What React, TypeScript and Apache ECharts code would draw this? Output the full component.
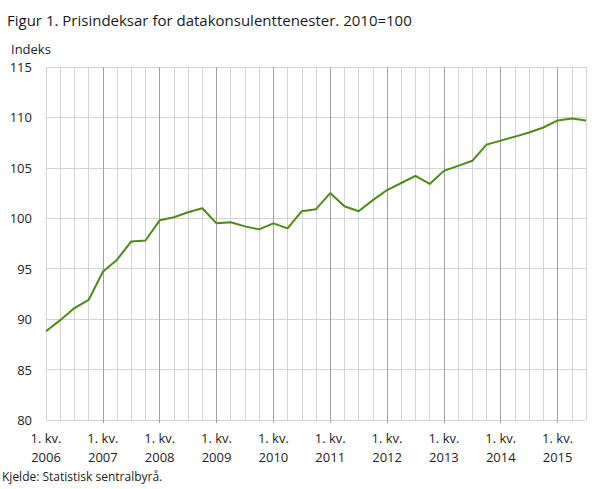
import React, { useEffect, useRef } from "react";
import * as echarts from "echarts";

const categories: string[] = [
  "2006K1", "2006K2", "2006K3", "2006K4",
  "2007K1", "2007K2", "2007K3", "2007K4",
  "2008K1", "2008K2", "2008K3", "2008K4",
  "2009K1", "2009K2", "2009K3", "2009K4",
  "2010K1", "2010K2", "2010K3", "2010K4",
  "2011K1", "2011K2", "2011K3", "2011K4",
  "2012K1", "2012K2", "2012K3", "2012K4",
  "2013K1", "2013K2", "2013K3", "2013K4",
  "2014K1", "2014K2", "2014K3", "2014K4",
  "2015K1", "2015K2", "2015K3",
];

const values: number[] = [
  88.8, 89.9, 91.1, 91.9,
  94.7, 95.9, 97.7, 97.8,
  99.8, 100.1, 100.6, 101.0,
  99.5, 99.6, 99.2, 98.9,
  99.5, 99.0, 100.7, 100.9,
  102.5, 101.2, 100.7, 101.8,
  102.8, 103.5, 104.2, 103.4,
  104.7, 105.2, 105.7, 107.3,
  107.7, 108.1, 108.5, 109.0,
  109.7, 109.9, 109.7,
];

const yTicks = { min: 80, max: 115, interval: 5 };

const FONT = "'Open Sans', 'Noto Sans', sans-serif";

export default function App() {
  const ref = useRef<HTMLDivElement>(null);
  useEffect(() => {
    if (!ref.current) return;
    const chart = echarts.init(ref.current, undefined, { renderer: "svg" });
    const isQ1 = (i: number) => i % 4 === 0;
    chart.setOption({
      animation: false,
      backgroundColor: "#ffffff",
      textStyle: { fontFamily: FONT },
      title: {
        text: "Figur 1. Prisindeksar for datakonsulenttenester. 2010=100",
        left: 2,
        top: 7,
        textStyle: { fontFamily: FONT, fontSize: 15, fontWeight: "normal", color: "#1a1a1a" },
      },
      graphic: [
        {
          type: "text",
          left: 11,
          top: 42,
          style: { text: "Indeks", font: `13px ${FONT}`, fill: "#222" },
        },
        {
          type: "text",
          left: 2,
          top: 470,
          style: { text: "Kjelde: Statistisk sentralbyrå.", font: `12px ${FONT}`, fill: "#222" },
        },
      ],
      grid: { left: 46, right: 23, top: 67, bottom: 69, containLabel: false },
      xAxis: [
        {
          type: "category",
          data: categories,
          boundaryGap: false,
          axisLine: { show: true, lineStyle: { color: "#d4d4d4", width: 1 } },
          axisTick: {
            show: true,
            interval: (i: number) => isQ1(i) && i > 0,
            length: 3,
            lineStyle: { color: "#a0a0a0" },
          },
          axisLabel: {
            interval: (i: number) => isQ1(i),
            formatter: (v: string) => "1. kv.\n" + v.slice(0, 4),
            fontFamily: FONT,
            fontSize: 13,
            color: "#222",
            lineHeight: 19,
            margin: 8,
          },
          splitLine: { show: true, interval: 0, lineStyle: { color: "#d4d4d4", width: 1 } },
        },
        {
          type: "category",
          data: categories,
          boundaryGap: false,
          position: "bottom",
          axisLine: { show: false },
          axisTick: { show: false },
          axisLabel: { show: false },
          splitLine: {
            show: true,
            interval: (i: number) => isQ1(i) && i > 0,
            lineStyle: { color: "#a0a0a0", width: 1 },
          },
        },
      ],
      yAxis: {
        type: "value",
        min: yTicks.min,
        max: yTicks.max,
        interval: yTicks.interval,
        axisLine: { show: false },
        axisTick: { show: false },
        axisLabel: { fontFamily: FONT, fontSize: 13, color: "#222", margin: 14 },
        splitLine: { show: true, lineStyle: { color: "#d4d4d4", width: 1 } },
      },
      series: [
        {
          type: "line",
          data: values,
          xAxisIndex: 0,
          showSymbol: false,
          symbol: "none",
          lineStyle: { color: "#4b8c16", width: 2 },
          itemStyle: { color: "#4b8c16" },
          z: 5,
        },
      ],
    });
    return () => chart.dispose();
  }, []);
  return (
    <div
      ref={ref}
      style={{ position: "fixed", left: 0, top: 0, width: 609, height: 489 }}
    />
  );
}
